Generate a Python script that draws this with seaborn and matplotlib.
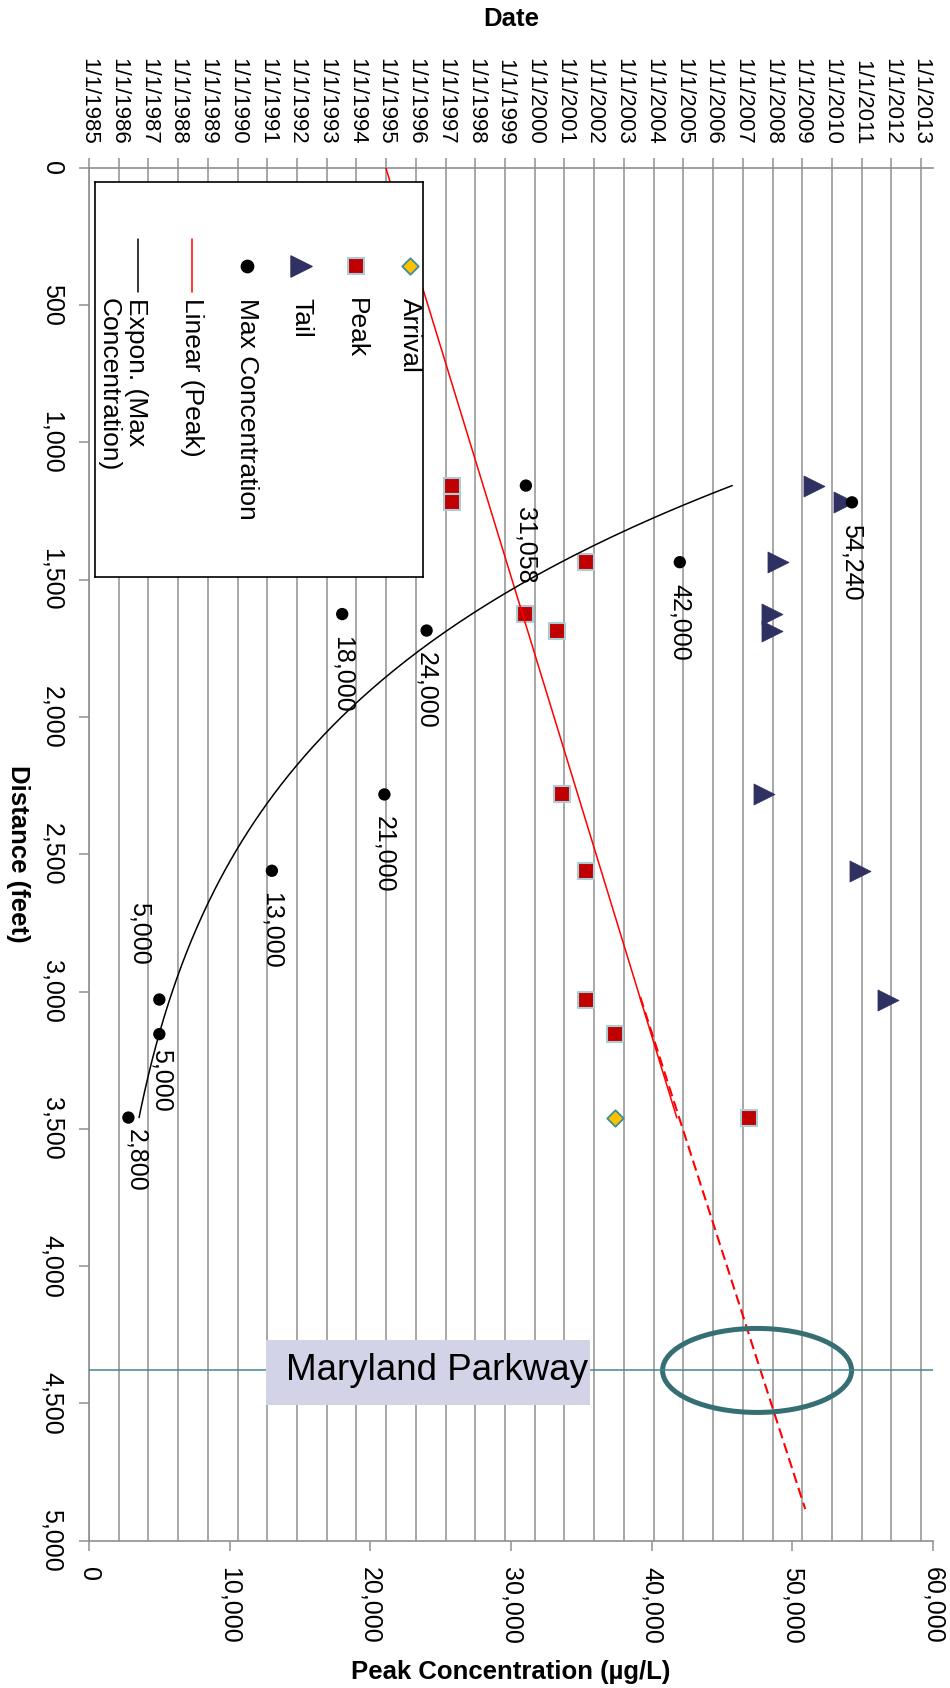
import matplotlib
matplotlib.use("Agg")
import matplotlib.pyplot as plt
from matplotlib.patches import Ellipse, Rectangle
import seaborn as sns
import numpy as np

# =========================
# DATA
# =========================
distance = [1157, 1218, 1436, 1625, 1685, 2282, 2560, 3029, 3155, 3459]
max_conc = [31058, 54240, 42000, 18000, 24000, 21000, 13000, 5000, 5000, 2800]
conc_labels = ["31,058", "54,240", "42,000", "18,000", "24,000",
               "21,000", "13,000", "5,000", "5,000", "2,800"]

# dates as decimal years
peak_date = [1997.21, 1997.21, 2001.72, 1999.66, 2000.74,
             2000.93, 2001.72, 2001.72, 2002.70, 2007.22]
tail_distance = [1157, 1218, 1436, 1625, 1685, 2282, 2560, 3029]
tail_date = [2009.40, 2010.42, 2008.17, 2007.97, 2007.97, 2007.70, 2010.93, 2011.88]
arrival_distance = [3459]
arrival_date = [2002.70]

# trend line of Peak and its hand drawn projection
linear_peak_distance = [0, 3460]
linear_peak_date = [1994.99, 2004.78]
projection_distance = [3020, 4885]
projection_date = [2003.55, 2009.10]

maryland_distance = 4380

years = list(range(1985, 2014))
date_labels = [f"1/1/{y}" for y in years]
distance_ticks = list(range(0, 5001, 500))
conc_ticks = list(range(0, 60001, 10000))

GRID = "#8f8f8f"

sns.set_theme(style="white")
plt.rcParams["font.family"] = ["Liberation Sans", "DejaVu Sans"]
plt.rcParams["text.color"] = "black"

fig = plt.figure(figsize=(9.5, 16.88), dpi=100)
ax = fig.add_axes([0.0937, 0.0873, 0.8884, 0.8132])   # date axis (primary)
ax2 = ax.twiny()                                      # concentration axis

# =========================
# DATE AXIS (top) + DISTANCE (left)
# =========================
ax.set_xlim(1985, 2013.4)
ax.set_ylim(5000, 0)
ax.set_xticks(years)
ax.set_xticklabels(date_labels)
ax.xaxis.set_ticks_position("top")
ax.tick_params(axis="x", top=True, bottom=False, labeltop=True, labelbottom=False,
               length=7, width=1.1, color=GRID, pad=9.5, labelsize=16,
               labelrotation=-90, labelcolor="black")
ax.set_yticks(distance_ticks)
ax.set_yticklabels([f"{d:,}" for d in distance_ticks])
ax.tick_params(axis="y", left=True, right=False, length=7, width=1.1, color=GRID,
               pad=11, labelsize=18, labelrotation=-90, labelcolor="black")
for lbl in ax.get_yticklabels():
    lbl.set_va("center")
ax.grid(axis="x", color=GRID, lw=1.1)
ax.grid(axis="y", visible=False)
ax.set_axisbelow(True)
ax.spines["right"].set_visible(False)
for s in ["left", "top", "bottom"]:
    ax.spines[s].set_color(GRID)
    ax.spines[s].set_linewidth(1.2)

# =========================
# CONCENTRATION AXIS (bottom)
# =========================
ax2.set_xlim(0, 60000)
ax2.xaxis.set_ticks_position("bottom")
ax2.xaxis.set_label_position("bottom")
ax2.set_xticks(conc_ticks)
ax2.set_xticklabels([f"{c:,}" for c in conc_ticks])
ax2.tick_params(axis="x", bottom=True, top=False, labelbottom=True, labeltop=False,
                length=7, width=1.1, color=GRID, pad=12, labelsize=18,
                labelrotation=-90, labelcolor="black")
for s in ax2.spines.values():
    s.set_visible(False)

# =========================
# DATE SERIES
# =========================
sns.scatterplot(x=peak_date, y=distance, marker="s", s=121, color="#C00000",
                edgecolor="#A9CDD2", linewidth=1.5, ax=ax, zorder=3, legend=False)
sns.scatterplot(x=tail_date, y=tail_distance, marker=">", s=230, color="#2E3162",
                edgecolor="#2E3162", linewidth=0.5, ax=ax, zorder=3, legend=False)
sns.scatterplot(x=arrival_date, y=arrival_distance, marker="D", s=70, color="#FFC000",
                edgecolor="#3E8E99", linewidth=1.3, ax=ax, zorder=3, legend=False)
ax.plot(linear_peak_date, linear_peak_distance, color="#FF0000", lw=1.1, zorder=4)
ax.plot(projection_date, projection_distance, color="#FF0000", lw=1.5,
        linestyle=(0, (5, 2.5)), zorder=4)
ax.add_patch(Ellipse((2007.48, maryland_distance), width=28 * 189 / 831.9,
                     height=306, fill=False, edgecolor="#356F73", lw=3.6, zorder=5))

# =========================
# MAX CONCENTRATION + EXPON TREND
# =========================
sns.scatterplot(x=max_conc, y=distance, color="black", s=79, edgecolor="none",
                ax=ax2, zorder=4, legend=False)
b, lna = np.polyfit(distance, np.log(max_conc), 1)
d_fit = np.linspace(min(distance), max(distance), 200)
ax2.plot(np.exp(lna + b * d_fit), d_fit, color="black", lw=1.1, zorder=3)

label_offsets = {7: (-14, 25, "bottom"), 8: (1.5, -11, "top"), 9: (6, -8, "top")}
for i, (c, d, lab) in enumerate(zip(max_conc, distance, conc_labels)):
    dx, dy, va = label_offsets.get(i, (0, -15.5, "top"))
    ax2.annotate(lab, (c, d), xytext=(dx, dy), textcoords="offset points",
                 rotation=-90, ha="center", va=va, fontsize=18, zorder=6)

# Maryland Parkway marker
ax2.axhline(maryland_distance, color="#3D8A90", lw=1.1, zorder=2)
ax2.add_patch(Rectangle((12583, 4270), 23033, 236, facecolor="#D3D3E8",
                        edgecolor="none", zorder=5))
ax2.text(14005, maryland_distance, "Maryland Parkway", fontsize=26.5,
         ha="left", va="center", zorder=6)

# =========================
# AXIS TITLES
# =========================
fig.text(511 / 950, 1 - 19 / 1688, "Date", ha="center", va="center",
         fontsize=18.5, fontweight="bold")
fig.text(18 / 950, 1 - 854 / 1688, "Distance (feet)", ha="center", va="center",
         rotation=-90, fontsize=18.5, fontweight="bold")
fig.text(511 / 950, 1 - 1672 / 1688, "Peak Concentration (µg/L)", ha="center",
         va="center", fontsize=18.5, fontweight="bold")

# =========================
# LEGEND (rotated, drawn by hand)
# =========================
leg = fig.add_axes([95 / 950, 1 - 577 / 1688, 328 / 950, 395 / 1688])
leg.set_xlim(0, 328)
leg.set_ylim(395, 0)
leg.set_xticks([])
leg.set_yticks([])
leg.set_facecolor("white")
for s in leg.spines.values():
    s.set_color("black")
    s.set_linewidth(1.2)

leg.scatter([315], [84], marker="D", s=70, color="#FFC000", edgecolor="#3E8E99", lw=1.3)
leg.scatter([261], [84], marker="s", s=121, color="#C00000", edgecolor="#A9CDD2", lw=1.5)
leg.scatter([206], [84], marker=">", s=230, color="#2E3162")
leg.scatter([152], [84], marker="o", s=79, color="black")
leg.plot([97, 97], [57, 110], color="#FF0000", lw=1.1)
leg.plot([43, 43], [57, 110], color="black", lw=1.1)

legend_items = [(315, "Arrival"), (261, "Peak"), (206, "Tail"),
                (152, "Max Concentration"), (97, "Linear (Peak)"),
                (27.5, "Expon. (Max\nConcentration)")]
for x, txt in legend_items:
    leg.text(x, 116, txt, rotation=-90, ha="center", va="top", fontsize=19,
             multialignment="left")

fig.savefig("out.png", dpi=100)
